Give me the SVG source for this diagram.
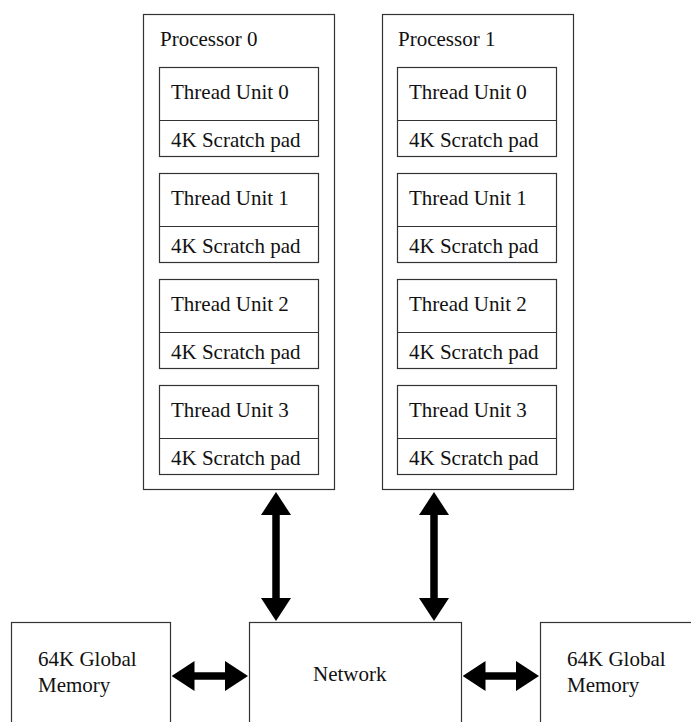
<svg xmlns="http://www.w3.org/2000/svg" width="691" height="722" viewBox="0 0 691 722">
<defs>
<style>
.box{fill:#fff;stroke:#333;stroke-width:1.2}
.t{font-family:'Liberation Serif','Tinos','Times New Roman','Times','Nimbus Roman','Nimbus Roman No9 L','FreeSerif','Noto Serif','DejaVu Serif','Georgia',serif;font-size:21px;fill:#111}
.c{stroke:#000;stroke-width:7.5;fill:none}
</style>
<marker id="ah" viewBox="0 0 23 30" refX="0.5" refY="15" markerWidth="23" markerHeight="30" markerUnits="userSpaceOnUse" orient="auto-start-reverse">
<path d="M0,0 L23,15 L0,30 Z" fill="#000"/>
</marker>
</defs>
<rect width="691" height="722" fill="#fff"/>

<g id="processor0">
<rect class="box" x="143.5" y="14.5" width="191" height="475"/>
<text class="t" x="160" y="46">Processor 0</text>
<g id="p0-tu0"><rect class="box" x="159.5" y="67.5" width="159" height="89"/><line x1="159.5" y1="120.5" x2="318.5" y2="120.5" stroke="#333" stroke-width="1.2"/><text class="t" x="171" y="99">Thread Unit 0</text><text class="t" x="171" y="147">4K Scratch pad</text></g>
<g id="p0-tu1"><rect class="box" x="159.5" y="173.5" width="159" height="89"/><line x1="159.5" y1="226.5" x2="318.5" y2="226.5" stroke="#333" stroke-width="1.2"/><text class="t" x="171" y="205">Thread Unit 1</text><text class="t" x="171" y="253">4K Scratch pad</text></g>
<g id="p0-tu2"><rect class="box" x="159.5" y="279.5" width="159" height="89"/><line x1="159.5" y1="332.5" x2="318.5" y2="332.5" stroke="#333" stroke-width="1.2"/><text class="t" x="171" y="311">Thread Unit 2</text><text class="t" x="171" y="359">4K Scratch pad</text></g>
<g id="p0-tu3"><rect class="box" x="159.5" y="385.5" width="159" height="89"/><line x1="159.5" y1="438.5" x2="318.5" y2="438.5" stroke="#333" stroke-width="1.2"/><text class="t" x="171" y="417">Thread Unit 3</text><text class="t" x="171" y="465">4K Scratch pad</text></g>
</g>

<g id="processor1">
<rect class="box" x="382.5" y="14.5" width="191" height="475"/>
<text class="t" x="398" y="46">Processor 1</text>
<g id="p1-tu0"><rect class="box" x="397.5" y="67.5" width="159" height="89"/><line x1="397.5" y1="120.5" x2="556.5" y2="120.5" stroke="#333" stroke-width="1.2"/><text class="t" x="409" y="99">Thread Unit 0</text><text class="t" x="409" y="147">4K Scratch pad</text></g>
<g id="p1-tu1"><rect class="box" x="397.5" y="173.5" width="159" height="89"/><line x1="397.5" y1="226.5" x2="556.5" y2="226.5" stroke="#333" stroke-width="1.2"/><text class="t" x="409" y="205">Thread Unit 1</text><text class="t" x="409" y="253">4K Scratch pad</text></g>
<g id="p1-tu2"><rect class="box" x="397.5" y="279.5" width="159" height="89"/><line x1="397.5" y1="332.5" x2="556.5" y2="332.5" stroke="#333" stroke-width="1.2"/><text class="t" x="409" y="311">Thread Unit 2</text><text class="t" x="409" y="359">4K Scratch pad</text></g>
<g id="p1-tu3"><rect class="box" x="397.5" y="385.5" width="159" height="89"/><line x1="397.5" y1="438.5" x2="556.5" y2="438.5" stroke="#333" stroke-width="1.2"/><text class="t" x="409" y="417">Thread Unit 3</text><text class="t" x="409" y="465">4K Scratch pad</text></g>
</g>

<g id="memory-left">
<rect class="box" x="11.5" y="622.5" width="159" height="120"/>
<text class="t" x="38" y="666">64K Global</text>
<text class="t" x="38" y="692">Memory</text>
</g>

<g id="network">
<rect class="box" x="249.5" y="622.5" width="212" height="120"/>
<text class="t" x="313" y="681">Network</text>
</g>

<g id="memory-right">
<rect class="box" x="540.5" y="622.5" width="170" height="120"/>
<text class="t" x="567" y="666">64K Global</text>
<text class="t" x="567" y="692">Memory</text>
</g>

<g id="connectors">
<line class="c" x1="276" y1="514.5" x2="276" y2="598.5" marker-start="url(#ah)" marker-end="url(#ah)"/>
<line class="c" x1="434" y1="514.5" x2="434" y2="598.5" marker-start="url(#ah)" marker-end="url(#ah)"/>
<line class="c" x1="194" y1="676" x2="225.5" y2="676" marker-start="url(#ah)" marker-end="url(#ah)"/>
<line class="c" x1="485" y1="676" x2="516.5" y2="676" marker-start="url(#ah)" marker-end="url(#ah)"/>
</g>
</svg>
